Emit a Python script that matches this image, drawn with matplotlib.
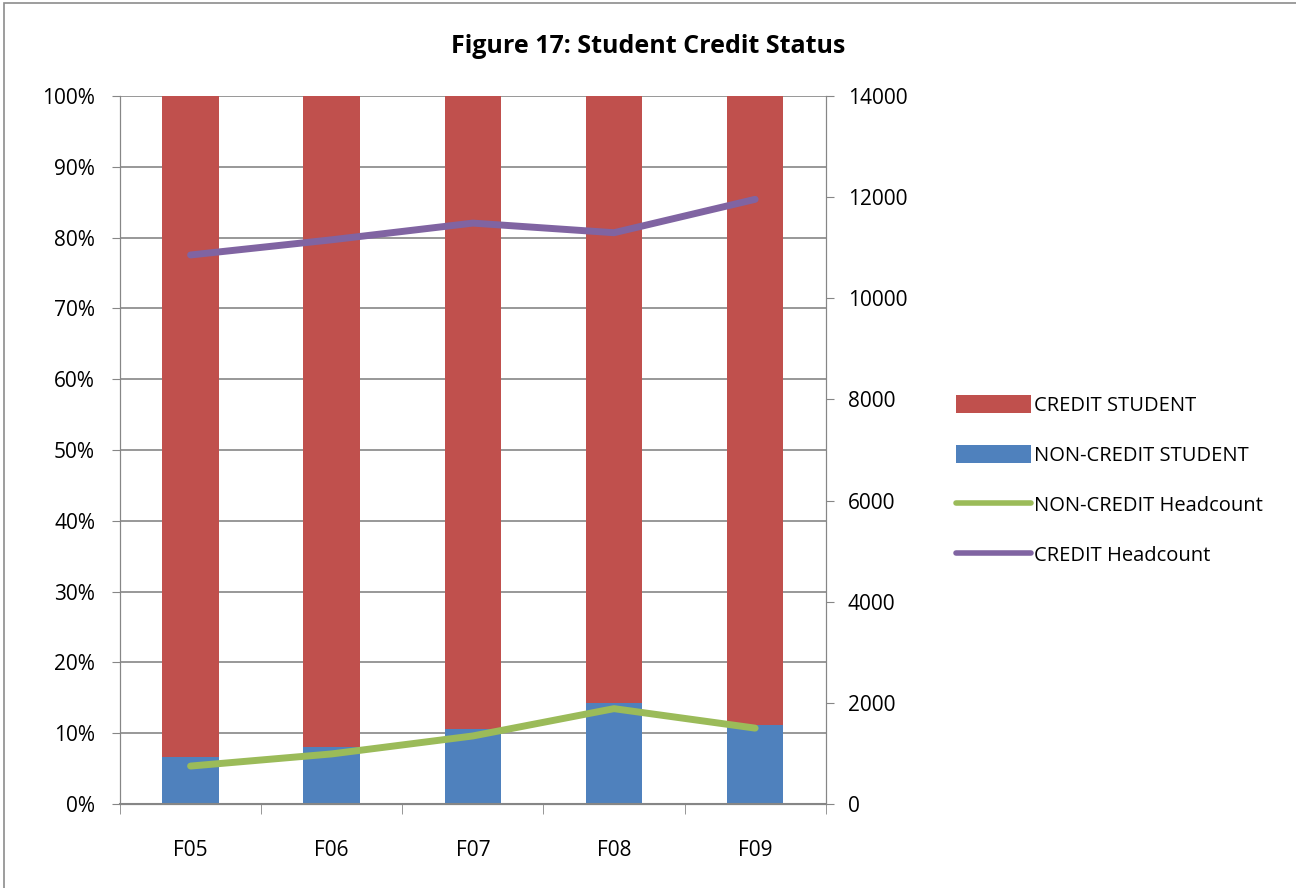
import matplotlib.pyplot as plt
from matplotlib.patches import Rectangle
from matplotlib.ticker import FuncFormatter, FixedLocator

plt.rcParams['font.family'] = ['Open Sans', 'DejaVu Sans']

years = ['F05', 'F06', 'F07', 'F08', 'F09']
noncredit_pct = [6.6, 8.0, 10.6, 14.2, 11.2]
credit_pct = [100 - v for v in noncredit_pct]
noncredit_head = [750, 990, 1345, 1885, 1500]
credit_head = [10855, 11155, 11485, 11295, 11955]

red = '#c0504d'
blue = '#4f81bd'
green = '#9bbb59'
purple = '#8064a2'
grid = '#868686'

fig = plt.figure(figsize=(12.96, 8.88), dpi=100)
fig.patches.append(Rectangle((0.003, -0.01), 1.01, 1.007, transform=fig.transFigure,
                             fill=False, edgecolor='#8c8c8c', linewidth=1.2))
ax = fig.add_axes([0.0926, 0.0946, 0.5445, 0.7974])
x = range(len(years))
b2 = ax.bar(x, noncredit_pct, width=0.4, color=blue, label='NON-CREDIT STUDENT', zorder=2)
b1 = ax.bar(x, credit_pct, width=0.4, bottom=noncredit_pct, color=red, label='CREDIT STUDENT', zorder=2)
ax.set_ylim(0, 100)
ax.set_xlim(-0.5, 4.5)
ax.set_yticks(range(0, 101, 10))
ax.yaxis.set_major_formatter(FuncFormatter(lambda v, p: f'{int(v)}%'))
ax.grid(axis='y', color=grid, linewidth=1.2, zorder=0)
ax.set_xticks(list(x))
ax.set_xticklabels(years)
ax.xaxis.set_minor_locator(FixedLocator([-0.5, 0.5, 1.5, 2.5, 3.5, 4.5]))
ax.tick_params(axis='x', which='major', length=0, pad=26, labelsize=15)
ax.tick_params(axis='x', which='minor', length=7, color=grid, direction='out')
ax.tick_params(axis='y', length=6, color=grid, labelsize=15, pad=12)
ax.spines['top'].set_visible(False)
for s in ['left', 'right', 'bottom']:
    ax.spines[s].set_color(grid)
ax.spines['bottom'].set_linewidth(1.5)

ax2 = ax.twinx()
l1, = ax2.plot(x, noncredit_head, color=green, linewidth=5, solid_capstyle='round', label='NON-CREDIT Headcount')
l2, = ax2.plot(x, credit_head, color=purple, linewidth=5, solid_capstyle='round', label='CREDIT Headcount')
ax2.set_ylim(0, 14000)
ax2.set_yticks(range(0, 14001, 2000))
ax2.tick_params(axis='y', length=6, color=grid, labelsize=15, pad=10)
ax2.spines['top'].set_visible(False)
for s in ['left', 'right', 'bottom']:
    ax2.spines[s].set_color(grid)

fig.text(0.5, 0.948, 'Figure 17: Student Credit Status', ha='center', va='center',
         fontsize=18, fontweight='bold')

leg = fig.legend([b1, b2, l1, l2], ['CREDIT STUDENT', 'NON-CREDIT STUDENT', 'NON-CREDIT Headcount', 'CREDIT Headcount'],
                 loc='center left', bbox_to_anchor=(0.724, 0.459), frameon=False, fontsize=14.5,
                 handlelength=3.7, handleheight=1.0, handletextpad=0.15, labelspacing=1.45)
for h in leg.legend_handles[2:]:
    h.set_linewidth(4)

fig.savefig('out.png', dpi=100)
